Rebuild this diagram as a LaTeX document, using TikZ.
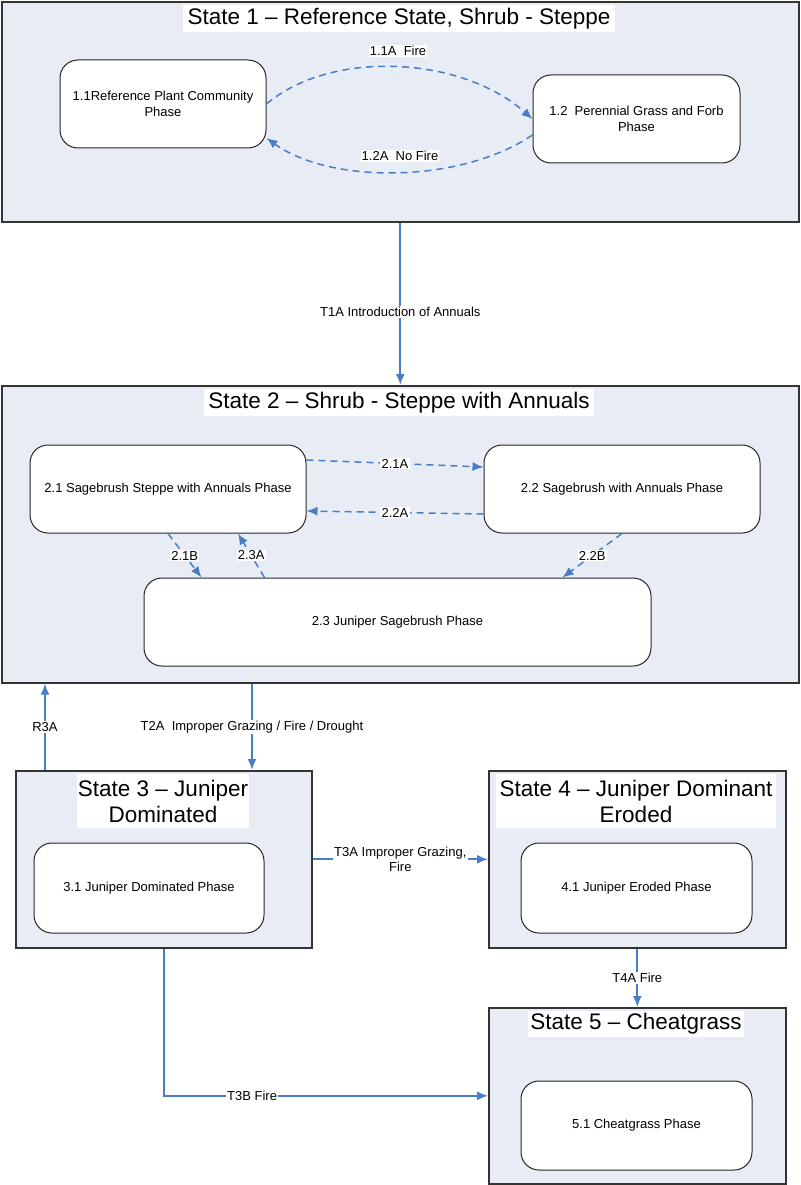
\documentclass[tikz,border=0pt]{standalone}
\usepackage{fontspec}
\setmainfont{Liberation Sans}
\usetikzlibrary{arrows.meta,calc}
\definecolor{statefill}{HTML}{E8EDF5}
\definecolor{arrblue}{HTML}{4A7EC4}
\begin{document}
\begin{tikzpicture}[x=1pt,y=-1pt,
 statebox/.style={draw=black!80,line width=1.6pt,fill=statefill,inner sep=0pt,anchor=north west},
 phasebox/.style={draw=black!85,line width=1pt,fill=white,rounded corners=18pt,align=center,inner sep=2pt,font=\fontsize{13}{15.5}\selectfont},
 titlebox/.style={fill=white,inner sep=0pt,align=center,font=\fontsize{22.5}{26}\selectfont},
 lbl/.style={fill=white,inner sep=1.2pt,font=\fontsize{13}{15.5}\selectfont,align=center},
 conn/.style={draw=arrblue,line width=1.8pt,-{Latex[length=11pt,width=9pt]}},
 dconn/.style={conn,line width=1.5pt,dash pattern=on 7pt off 5pt},
]
\useasboundingbox (0,0) rectangle (800,1185);
\fill[white] (0,0) rectangle (800,1185);

% states
\node[statebox,minimum width=797,minimum height=220] (s1) at (1,1) {};
\node[statebox,minimum width=797,minimum height=297] (s2) at (1,385) {};
\node[statebox,minimum width=296,minimum height=177] (s3) at (15,770) {};
\node[statebox,minimum width=297,minimum height=177] (s4) at (488,770) {};
\node[statebox,minimum width=297,minimum height=176] (s5) at (488,1007) {};

% titles
\node[titlebox,minimum width=432,minimum height=27] (t1) at (399,18.5) {State 1 – Reference State, Shrub - Steppe};
\node[titlebox,minimum width=390,minimum height=27] (t2) at (399,402.5) {State 2 – Shrub - Steppe with Annuals};
\node[titlebox,minimum width=172,minimum height=54] (t3) at (163,801) {State 3 – Juniper\\Dominated};
\node[titlebox,minimum width=280,minimum height=54] (t4) at (636,801) {State 4 – Juniper Dominant\\Eroded};
\node[titlebox,minimum width=216,minimum height=26] (t5) at (636,1024) {State 5 – Cheatgrass};

% phases
\node[phasebox,minimum width=206,minimum height=88] (p11) at (163,104) {1.1Reference Plant Community\\Phase};
\node[phasebox,minimum width=207,minimum height=88] (p12) at (636.5,119) {1.2\ \ Perennial Grass and Forb\\Phase};
\node[phasebox,minimum width=276,minimum height=88] (p21) at (168,489) {2.1 Sagebrush Steppe with Annuals Phase};
\node[phasebox,minimum width=276,minimum height=88] (p22) at (622,489) {2.2 Sagebrush with Annuals Phase};
\node[phasebox,minimum width=507,minimum height=88] (p23) at (397.5,622) {2.3 Juniper Sagebrush Phase};
\node[phasebox,minimum width=230,minimum height=90] (p31) at (149,888) {3.1 Juniper Dominated Phase};
\node[phasebox,minimum width=231,minimum height=90] (p41) at (636.5,888) {4.1 Juniper Eroded Phase};
\node[phasebox,minimum width=231,minimum height=89] (p51) at (636.5,1125.5) {5.1 Cheatgrass Phase};

% state 1 pathways
\draw[dconn] (p11.east) .. controls (330,50) and (460,55) .. (p12.west);
\node[lbl] (l11a) at (398,51) {1.1A\ \ Fire};
\draw[dconn] ($(p12.west)+(0,16)$) .. controls (460,184) and (330,184) .. ($(p11.east)+(0,34)$);
\node[lbl] (l12a) at (400,156) {1.2A\ \ No Fire};

% T1A
\draw[conn] (s1.south) -- node[lbl,pos=0.55] (lt1a) {T1A Introduction of Annuals} (s2.north);

% state 2 pathways
\draw[dconn] ($(p21.east)+(0,-29)$) -- node[lbl] (l21a) {2.1A} ($(p22.west)+(0,-22)$);
\draw[dconn] ($(p22.west)+(0,25)$) -- node[lbl] (l22a) {2.2A} ($(p21.east)+(0,22)$);
\draw[dconn] (p21.south) -- node[lbl] (l21b) {2.1B} ($(p23.north west)+(58,0)$);
\draw[dconn] ($(p23.north west)+(121,0)$) -- node[lbl] (l23a) {2.3A} ($(p21.south)+(70,0)$);
\draw[dconn] (p22.south) -- node[lbl] (l22b) {2.2B} ($(p23.north west)+(419,0)$);

% transitions
\coordinate (x252) at (252,0);
\coordinate (x45) at (45,0);
\coordinate (x164) at (164,0);
\draw[conn] (s2.south -| x252) -- node[lbl] (lt2a) {T2A\ \ Improper Grazing / Fire / Drought} (s3.north -| x252);
\draw[conn] (s3.north -| x45) -- node[lbl] (lr3a) {R3A} (s2.south -| x45);
\draw[conn] (s3.east) -- node[lbl] (lt3a) {T3A Improper Grazing,\\Fire} (s4.west);
\draw[conn] (s4.south) -- node[lbl] (lt4a) {T4A Fire} (s5.north);
\draw[conn] (s3.south -| x164) |- node[lbl,pos=0.636] (lt3b) {T3B Fire} (s5.west);
\end{tikzpicture}
\end{document}
